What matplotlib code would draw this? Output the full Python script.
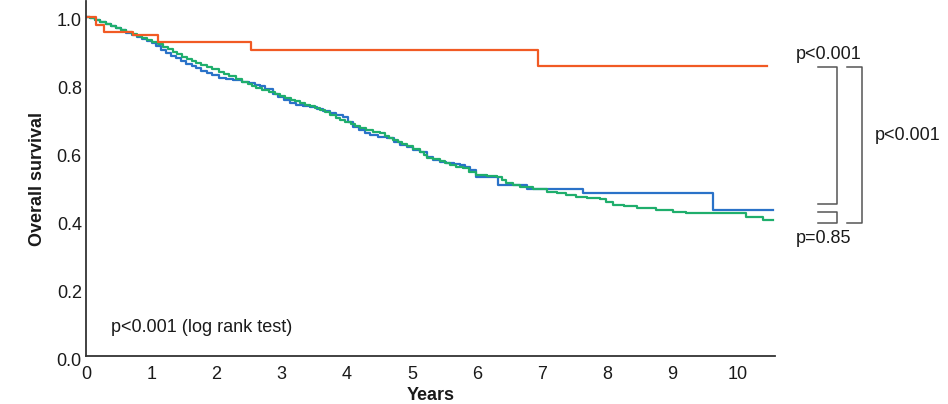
import matplotlib
matplotlib.use("Agg")
import matplotlib.pyplot as plt
from matplotlib.transforms import ScaledTranslation

plt.rcParams["font.family"] = ["Liberation Sans", "DejaVu Sans"]

# -- Kaplan-Meier step data (years, survival) --------------------------------
orange_t = [0.00, 0.15, 0.28, 0.72, 1.10, 2.53, 6.93, 10.44]
orange_s = [1.000, 0.976, 0.957, 0.947, 0.927, 0.903, 0.855, 0.855]

blue_t = [0.00, 0.06, 0.14, 0.22, 0.30, 0.38, 0.46, 0.54, 0.61, 0.70, 0.78,
          0.86, 0.94, 1.02, 1.08, 1.15, 1.23, 1.30, 1.38, 1.46, 1.54, 1.62,
          1.69, 1.77, 1.85, 1.94, 2.04, 2.15, 2.25, 2.40, 2.50, 2.60, 2.67,
          2.75, 2.87, 2.95, 3.04, 3.13, 3.22, 3.33, 3.44, 3.54, 3.64, 3.74,
          3.84, 3.94, 4.02, 4.10, 4.19, 4.28, 4.36, 4.48, 4.61, 4.72, 4.82,
          4.92, 5.02, 5.12, 5.23, 5.33, 5.43, 5.53, 5.64, 5.74, 5.82, 5.89,
          5.99, 6.32, 6.76, 7.62, 9.62, 10.54]
blue_s = [1.000, 0.996, 0.991, 0.985, 0.979, 0.973, 0.966, 0.960, 0.954,
          0.947, 0.941, 0.935, 0.929, 0.922, 0.913, 0.903, 0.893, 0.886,
          0.878, 0.870, 0.862, 0.855, 0.848, 0.842, 0.836, 0.829, 0.820,
          0.817, 0.814, 0.809, 0.805, 0.799, 0.796, 0.786, 0.773, 0.763,
          0.754, 0.745, 0.741, 0.738, 0.735, 0.729, 0.722, 0.716, 0.711,
          0.706, 0.690, 0.676, 0.667, 0.659, 0.652, 0.647, 0.642, 0.632,
          0.622, 0.615, 0.608, 0.601, 0.588, 0.578, 0.573, 0.568, 0.565,
          0.563, 0.556, 0.549, 0.529, 0.504, 0.494, 0.480, 0.431, 0.431]

green_t = [0.00, 0.06, 0.14, 0.22, 0.30, 0.38, 0.46, 0.54, 0.61, 0.70, 0.78,
           0.86, 0.94, 1.02, 1.10, 1.18, 1.26, 1.33, 1.40, 1.48, 1.55, 1.62,
           1.69, 1.77, 1.85, 1.93, 2.04, 2.12, 2.20, 2.30, 2.40, 2.48, 2.55,
           2.61, 2.70, 2.80, 2.90, 2.98, 3.06, 3.14, 3.21, 3.28, 3.36, 3.44,
           3.52, 3.59, 3.67, 3.75, 3.83, 3.90, 3.98, 4.06, 4.13, 4.20, 4.30,
           4.40, 4.51, 4.58, 4.65, 4.71, 4.78, 4.85, 4.92, 5.02, 5.12, 5.18,
           5.23, 5.33, 5.43, 5.50, 5.58, 5.68, 5.78, 5.88, 5.99, 6.15, 6.30,
           6.38, 6.45, 6.55, 6.66, 6.86, 7.07, 7.22, 7.37, 7.52, 7.68, 7.88,
           7.98, 8.08, 8.25, 8.45, 8.75, 9.00, 9.21, 10.13, 10.38, 10.54]
green_s = [1.000, 0.996, 0.991, 0.986, 0.980, 0.974, 0.968, 0.962, 0.957,
           0.951, 0.945, 0.939, 0.933, 0.927, 0.919, 0.912, 0.904, 0.897,
           0.891, 0.883, 0.876, 0.869, 0.863, 0.857, 0.851, 0.846, 0.839,
           0.832, 0.826, 0.818, 0.809, 0.801, 0.795, 0.790, 0.785, 0.779,
           0.772, 0.767, 0.761, 0.756, 0.751, 0.746, 0.741, 0.736, 0.731,
           0.727, 0.719, 0.711, 0.703, 0.696, 0.690, 0.684, 0.678, 0.672,
           0.667, 0.662, 0.657, 0.650, 0.643, 0.637, 0.631, 0.624, 0.618,
           0.610, 0.603, 0.593, 0.584, 0.580, 0.575, 0.569, 0.563, 0.558,
           0.553, 0.543, 0.534, 0.531, 0.529, 0.519, 0.510, 0.504, 0.498,
           0.492, 0.485, 0.480, 0.475, 0.470, 0.465, 0.462, 0.453, 0.445,
           0.441, 0.436, 0.431, 0.426, 0.421, 0.411, 0.401, 0.401]

x_ticks = [0, 1, 2, 3, 4, 5, 6, 7, 8, 9, 10]
y_ticks = [0.0, 0.2, 0.4, 0.6, 0.8, 1.0]

C_ORANGE = "#f15a24"
C_BLUE = "#2a72c8"
C_GREEN = "#1fae6c"
C_TEXT = "#1a1a1a"
C_BRACKET = "#555555"
FS = 13

fig = plt.figure(figsize=(9.48, 4.04), dpi=100)
ax = fig.add_axes([86 / 948, 48 / 404, 689 / 948, 355 / 404])

ax.step(blue_t, blue_s, where="post", color=C_BLUE, lw=1.6)
ax.step(green_t, green_s, where="post", color=C_GREEN, lw=1.6)
ax.step(orange_t, orange_s, where="post", color=C_ORANGE, lw=1.6)

ax.set_xlim(0, 10.57)
ax.set_ylim(0, 1.047)
ax.set_xticks(x_ticks)
ax.set_yticks(y_ticks)
ax.set_yticklabels([f"{v:.1f}" for v in y_ticks])
ax.tick_params(axis="x", length=0, pad=7, labelsize=FS, colors=C_TEXT)
ax.tick_params(axis="y", length=0, pad=3, labelsize=FS, colors=C_TEXT)

# y tick labels sit a few pixels low in the original
shift = ScaledTranslation(0, -3 / 100, fig.dpi_scale_trans)
for lbl in ax.get_yticklabels():
    lbl.set_transform(lbl.get_transform() + shift)

for side in ("top", "right"):
    ax.spines[side].set_visible(False)
for side in ("left", "bottom"):
    ax.spines[side].set_color("#333333")
    ax.spines[side].set_linewidth(1.3)

ax.set_xlabel("Years", fontsize=FS, fontweight="bold", color=C_TEXT, labelpad=3)
ax.set_ylabel("Overall survival", fontsize=FS, fontweight="bold",
              color=C_TEXT, labelpad=8)

ax.text(0.38, 0.083, "p<0.001 (log rank test)", fontsize=FS, color=C_TEXT,
        va="center", ha="left")

# -- Comparison brackets outside the axes -------------------------------------
def bracket(x0, x1, y_top, y_bot):
    ax.plot([x0, x1, x1, x0], [y_top, y_top, y_bot, y_bot],
            color=C_BRACKET, lw=1.1, clip_on=False)

bracket(11.23, 11.52, 0.852, 0.448)
bracket(11.23, 11.52, 0.426, 0.393)
bracket(11.67, 11.90, 0.852, 0.393)

ax.text(11.40, 0.890, "p<0.001", fontsize=FS, color=C_TEXT,
        ha="center", va="center", clip_on=False)
ax.text(12.10, 0.650, "p<0.001", fontsize=FS, color=C_TEXT,
        ha="left", va="center", clip_on=False)
ax.text(11.32, 0.347, "p=0.85", fontsize=FS, color=C_TEXT,
        ha="center", va="center", clip_on=False)

fig.savefig("out.png", dpi=100)
